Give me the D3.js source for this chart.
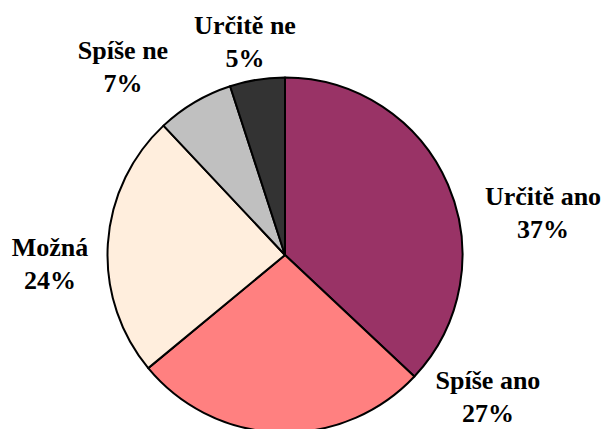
<!DOCTYPE html>
<html>
<head>
<meta charset="utf-8">
<script src="https://cdn.jsdelivr.net/npm/d3@7"></script>
<style>
  html, body { margin: 0; padding: 0; background: #fff; }
  svg { display: block; }
</style>
</head>
<body>
<div class="container"></div>
<script>
// Answer categories and shares (%)
const categories = ["Určitě ano", "Spíše ano", "Možná", "Spíše ne", "Určitě ne"];
const values = [37, 27, 24, 7, 5];
const colors = ["#993366", "#FF8080", "#FFEEDD", "#C0C0C0", "#333333"];

const width = 604,
    height = 429;

const cx = 285, cy = 255, radius = 177.5;

// label positions (center of first line), placed like the original chart
const labelPos = [
    [543, 205],
    [488, 389],
    [50, 256],
    [123, 59],
    [245, 34]
];
const lineGap = 33;

const svg = d3.select(".container")
    .append("svg")
    .attr("width", width)
    .attr("height", height);

const pie = d3.pie()
    .sort(null)
    .value(d => d);

const arc = d3.arc()
    .innerRadius(0)
    .outerRadius(radius);

const g = svg.append("g")
    .attr("transform", `translate(${cx},${cy})`);

g.selectAll("path")
    .data(pie(values))
    .enter()
    .append("path")
    .attr("d", arc)
    .attr("fill", (d, i) => colors[i])
    .attr("stroke", "#000")
    .attr("stroke-width", 2)
    .attr("stroke-linejoin", "round");

// data labels
const labels = svg.append("g")
    .selectAll("text")
    .data(categories)
    .enter()
    .append("text")
    .attr("font-family", "'Liberation Serif', 'Times New Roman', Times, serif")
    .attr("font-weight", "bold")
    .attr("font-size", 26)
    .attr("fill", "#000")
    .attr("text-anchor", "middle");

labels.append("tspan")
    .attr("x", (d, i) => labelPos[i][0])
    .attr("y", (d, i) => labelPos[i][1])
    .text(d => d);

labels.append("tspan")
    .attr("x", (d, i) => labelPos[i][0])
    .attr("y", (d, i) => labelPos[i][1] + lineGap)
    .text((d, i) => values[i] + "%");
</script>
</body>
</html>
